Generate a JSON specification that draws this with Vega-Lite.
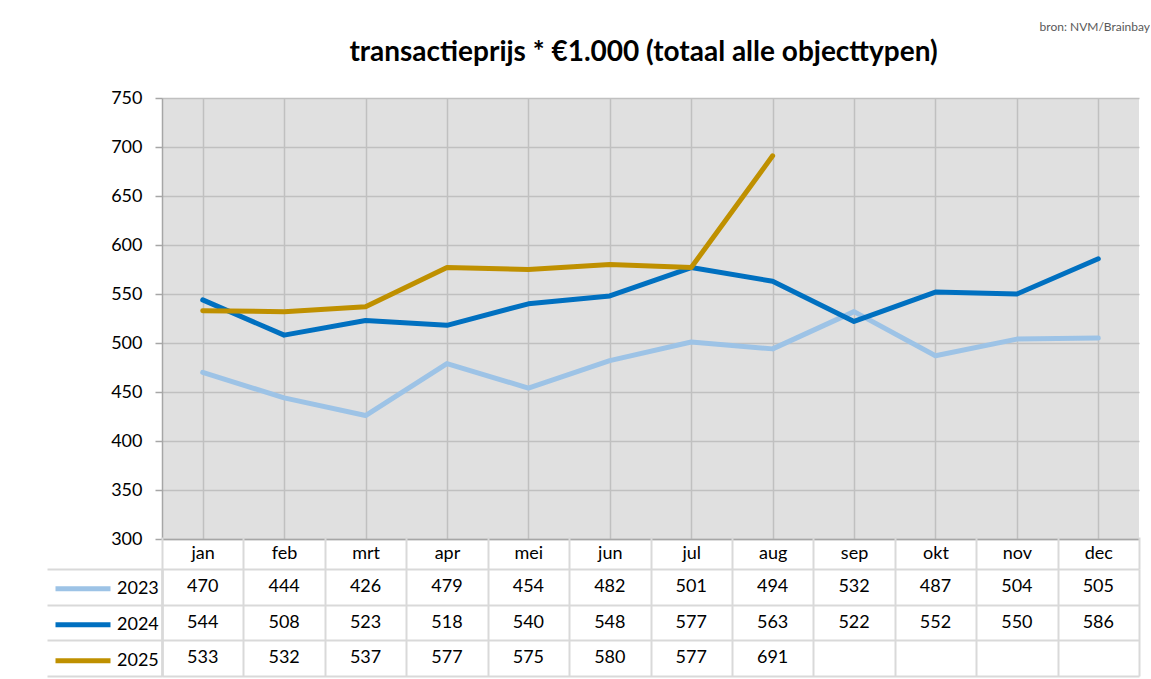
{
  "$schema": "https://vega.github.io/schema/vega-lite/v6.json",
  "padding": {"left": 46, "top": 21, "right": 0, "bottom": 0},
  "background": "white",
  "title": {"text": "bron: NVM/Brainbay", "anchor": "end", "fontSize": 12, "font": "Lato", "fontWeight": "normal", "color": "#595959", "offset": 5, "dx": 10},
  "datasets": {
    "prices": [
      {"jaar": "2023", "maand": "jan", "prijs": 470},
      {"jaar": "2023", "maand": "feb", "prijs": 444},
      {"jaar": "2023", "maand": "mrt", "prijs": 426},
      {"jaar": "2023", "maand": "apr", "prijs": 479},
      {"jaar": "2023", "maand": "mei", "prijs": 454},
      {"jaar": "2023", "maand": "jun", "prijs": 482},
      {"jaar": "2023", "maand": "jul", "prijs": 501},
      {"jaar": "2023", "maand": "aug", "prijs": 494},
      {"jaar": "2023", "maand": "sep", "prijs": 532},
      {"jaar": "2023", "maand": "okt", "prijs": 487},
      {"jaar": "2023", "maand": "nov", "prijs": 504},
      {"jaar": "2023", "maand": "dec", "prijs": 505},
      {"jaar": "2024", "maand": "jan", "prijs": 544},
      {"jaar": "2024", "maand": "feb", "prijs": 508},
      {"jaar": "2024", "maand": "mrt", "prijs": 523},
      {"jaar": "2024", "maand": "apr", "prijs": 518},
      {"jaar": "2024", "maand": "mei", "prijs": 540},
      {"jaar": "2024", "maand": "jun", "prijs": 548},
      {"jaar": "2024", "maand": "jul", "prijs": 577},
      {"jaar": "2024", "maand": "aug", "prijs": 563},
      {"jaar": "2024", "maand": "sep", "prijs": 522},
      {"jaar": "2024", "maand": "okt", "prijs": 552},
      {"jaar": "2024", "maand": "nov", "prijs": 550},
      {"jaar": "2024", "maand": "dec", "prijs": 586},
      {"jaar": "2025", "maand": "jan", "prijs": 533},
      {"jaar": "2025", "maand": "feb", "prijs": 532},
      {"jaar": "2025", "maand": "mrt", "prijs": 537},
      {"jaar": "2025", "maand": "apr", "prijs": 577},
      {"jaar": "2025", "maand": "mei", "prijs": 575},
      {"jaar": "2025", "maand": "jun", "prijs": 580},
      {"jaar": "2025", "maand": "jul", "prijs": 577},
      {"jaar": "2025", "maand": "aug", "prijs": 691}
    ]
  },
  "spacing": -12,
  "vconcat": [
    {
      "width": 977,
      "height": 441,
      "view": {"fill": "#e0e0e0", "stroke": null},
      "title": {"text": "transactieprijs * €1.000 (totaal alle objecttypen)", "fontSize": 28, "font": "Lato", "fontWeight": "bold", "color": "black", "offset": 22, "dx": -7, "anchor": "middle"},
      "data": {"name": "prices"},
      "mark": {"type": "line", "strokeWidth": 5, "strokeCap": "round", "strokeJoin": "round"},
      "encoding": {
        "x": {
          "field": "maand", "type": "ordinal",
          "scale": {"type": "point", "padding": 0.5, "domain": ["jan","feb","mrt","apr","mei","jun","jul","aug","sep","okt","nov","dec"]},
          "axis": {"title": null, "labels": false, "ticks": false, "grid": true, "gridColor": "#c0c0c0", "gridWidth": 1.5, "domain": true, "domainColor": "#a6a6a6", "domainWidth": 1.5}
        },
        "y": {
          "field": "prijs", "type": "quantitative",
          "scale": {"domain": [300, 750], "nice": false, "zero": false},
          "axis": {"title": null, "values": [300,350,400,450,500,550,600,650,700,750], "grid": true, "gridColor": "#c0c0c0", "gridWidth": 1.5, "domainColor": "#a6a6a6", "domainWidth": 1.5, "tickColor": "#a6a6a6", "tickSize": 7, "tickWidth": 1.5, "labelFontSize": 18, "labelFont": "Lato", "labelColor": "black", "labelPadding": 13}
        },
        "color": {
          "field": "jaar", "type": "nominal",
          "scale": {"domain": ["2023","2024","2025"], "range": ["#9dc3e6","#0070c0","#bf9000"]},
          "legend": {"orient": "none", "legendX": -109, "legendY": 473, "title": null, "symbolType": "stroke", "symbolStrokeWidth": 5, "symbolSize": 3025, "labelFontSize": 18, "labelFont": "Lato", "labelColor": "black", "labelOffset": 4, "clipHeight": 35.67, "rowPadding": 0, "padding": 0}
        }
      }
    },
    {
      "width": 977,
      "height": 107,
      "view": {"fill": "white", "stroke": null},
      "data": {"name": "prices"},
      "resolve": {"scale": {"y": "independent"}, "axis": {"y": "independent"}},
      "layer": [
        {
          "mark": {"type": "text", "fontSize": 18, "font": "Lato", "color": "black"},
          "encoding": {
            "x": {
              "field": "maand", "type": "ordinal",
              "scale": {"type": "band", "paddingInner": 0, "paddingOuter": 0, "domain": ["jan","feb","mrt","apr","mei","jun","jul","aug","sep","okt","nov","dec"]},
              "axis": {"title": null, "orient": "top", "tickBand": "extent", "ticks": true, "tickSize": 32, "tickColor": "#d9d9d9", "tickWidth": 2, "grid": true, "gridColor": "#d9d9d9", "gridWidth": 2, "domain": false, "labelFontSize": 18, "labelFont": "Lato", "labelColor": "black", "labelPadding": -25, "labelAngle": 0}
            },
            "y": {
              "field": "jaar", "type": "nominal",
              "scale": {"type": "band", "paddingInner": 0, "paddingOuter": 0, "domain": ["2023","2024","2025"]},
              "axis": {"title": null, "labels": false, "tickBand": "extent", "ticks": true, "tickSize": 115, "tickColor": "#d9d9d9", "tickWidth": 2, "grid": true, "gridColor": "#d9d9d9", "gridWidth": 2, "domain": true, "domainColor": "#d9d9d9", "domainWidth": 2}
            },
            "text": {"field": "prijs", "type": "quantitative"}
          }
        },
        {
          "mark": {"type": "text", "fontSize": 18, "opacity": 0},
          "encoding": {
            "x": {"field": "maand", "type": "ordinal"},
            "y": {
              "field": "jaar", "type": "nominal",
              "scale": {"type": "band", "paddingInner": 0, "paddingOuter": 0, "domain": ["2023","2024","2025"]},
              "axis": {"title": null, "orient": "left", "labels": false, "ticks": false, "grid": false, "domain": true, "domainColor": "#d9d9d9", "domainWidth": 2}
            },
            "text": {"field": "prijs", "type": "quantitative"}
          }
        }
      ]
    }
  ],
  "config": {"font": "Lato"}
}
